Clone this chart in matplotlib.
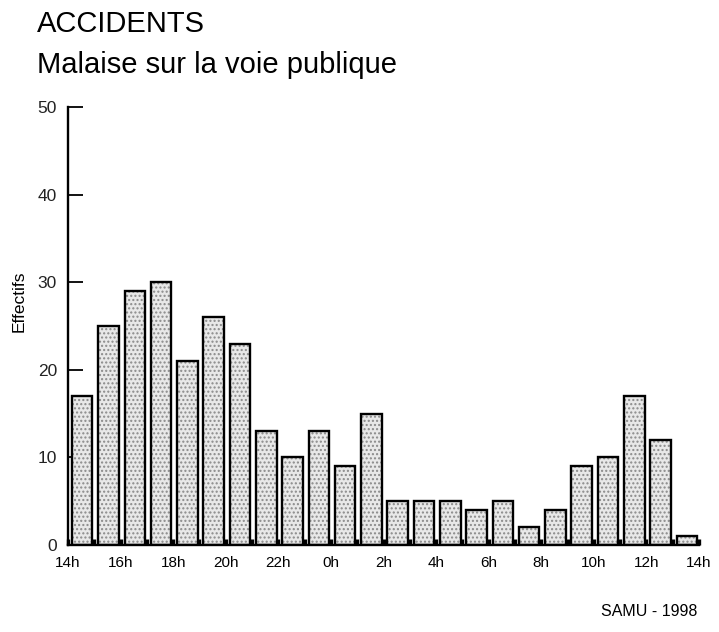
import matplotlib
matplotlib.use("Agg")
import matplotlib.pyplot as plt
import numpy as np

plt.rcParams['font.family'] = ['Liberation Sans', 'DejaVu Sans']

# effectifs par tranche horaire, de 14h a 14h le lendemain
heures = ["14h", "16h", "18h", "20h", "22h", "0h", "2h", "4h", "6h", "8h", "10h", "12h", "14h"]
effectifs = [17, 25, 29, 30, 21, 26, 23, 13, 10, 13, 9, 15,
             5, 5, 5, 4, 5, 2, 4, 9, 10, 17, 12, 1]
yticks = [0, 10, 20, 30, 40, 50]

fig = plt.figure(figsize=(7.19, 6.32), dpi=100)
ax = fig.add_axes([0.0946, 0.1377, 0.8776, 0.693])

x = np.arange(len(effectifs)) + 0.15
# remplissage pointille puis contour noir
ax.bar(x, effectifs, width=0.78, align='edge', color='#e8e8e8',
       hatch='....', edgecolor='#8a8a8a', linewidth=0, zorder=2)
ax.bar(x, effectifs, width=0.78, align='edge', fill=False,
       edgecolor='black', linewidth=1.7, zorder=3)

ax.set_xlim(0, len(effectifs))
ax.set_ylim(0, 50)
ax.set_xticks(np.arange(0, len(effectifs) + 1, 2))
ax.set_xticklabels(heures, fontsize=11)
ax.set_xticks(np.arange(0, len(effectifs) + 1), minor=True)
ax.tick_params(axis='x', which='both', direction='in', length=4.5, width=2.4, pad=8)
ax.set_yticks(yticks)
ax.tick_params(axis='y', direction='in', length=11, width=1.3, pad=8, labelsize=12.5)
for lab in ax.get_yticklabels():
    lab.set_color('#222222')

for s in ['top', 'right']:
    ax.spines[s].set_visible(False)
for s in ['left', 'bottom']:
    ax.spines[s].set_linewidth(1.7)

fig.text(19 / 719, 1 - 301 / 632, "Effectifs", rotation=90, fontsize=12.5,
         ha='center', va='center')

fig.text(37 / 719, 1 - 32 / 632, "ACCIDENTS", fontsize=21, va='baseline')
fig.text(37 / 719, 1 - 73 / 632, "Malaise sur la voie publique", fontsize=21, va='baseline')
fig.text(697 / 719, 1 - 616 / 632, "SAMU - 1998", fontsize=11.5, ha='right', va='baseline')

fig.savefig("out.png", dpi=100)
